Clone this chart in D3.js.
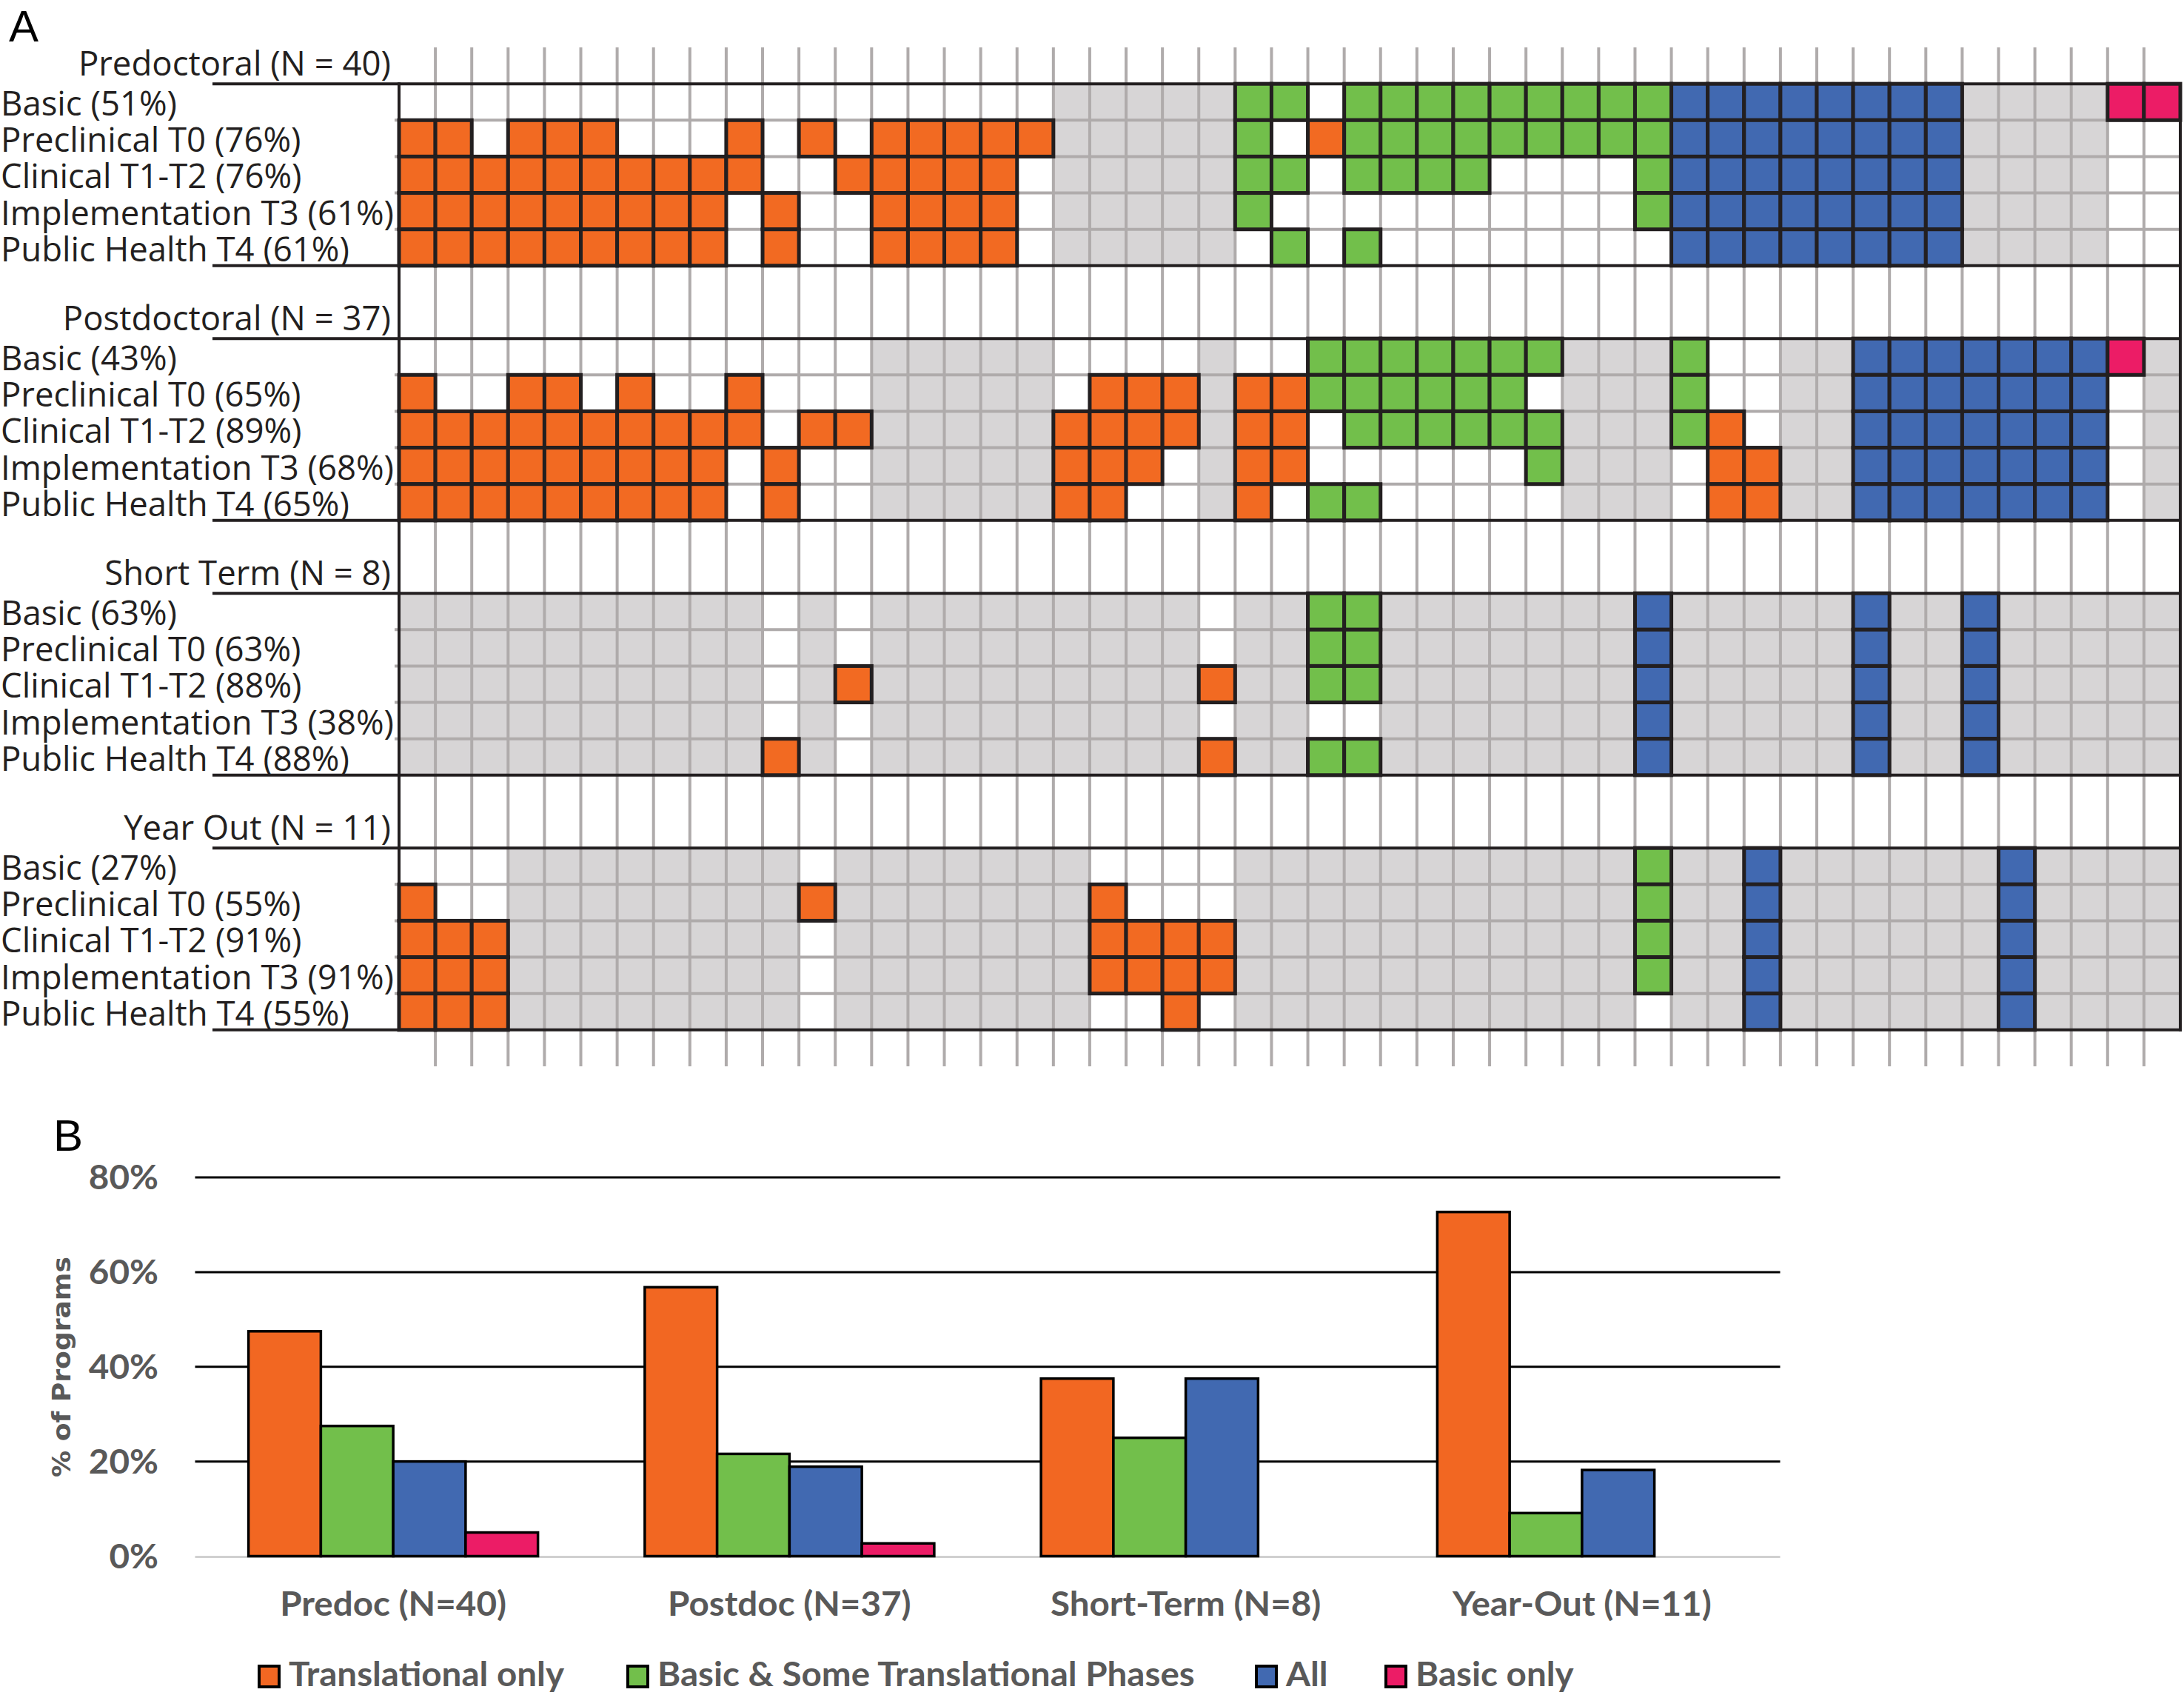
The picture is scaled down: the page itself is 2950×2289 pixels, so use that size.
<!DOCTYPE html>
<html><head><meta charset="utf-8">
<script src="https://cdn.jsdelivr.net/npm/d3@7"></script>
<style>html,body{margin:0;padding:0;background:#fff;} svg{display:block;}</style>
</head><body>
<svg id="chart" width="2950" height="2289"></svg>
<script>
// ================= DATA =================
const phaseNames = ["Basic", "Preclinical T0", "Clinical T1-T2", "Implementation T3", "Public Health T4"];
const sectionNames = ["Predoctoral (N = 40)", "Postdoctoral (N = 37)", "Short Term (N = 8)", "Year Out (N = 11)"];
const predocPercents  = [51, 76, 76, 61, 61];
const postdocPercents = [43, 65, 89, 68, 65];
const shortPercents   = [63, 63, 88, 38, 88];
const yearOutPercents = [27, 55, 91, 91, 55];

// program type of each of the 49 columns: O = translational only, G = basic & some translational,
// B = all phases, P = basic only, "." = no program (grey)
const predocTypes = "OOOOOOOOOOOOOOOOOO" + "....." + "GG" + "O" + "GGGGGGGGG" + "BBBBBBBB" + "...." + "PP";
// phase coverage per column (1 = covered), rows = phaseNames
const predocPhases = [
  "000000000000000000" + "00000" + "11" + "0" + "111111111" + "11111111" + "0000" + "11",
  "110111000101011111" + "00000" + "10" + "1" + "111111111" + "11111111" + "0000" + "00",
  "111111111100111110" + "00000" + "11" + "0" + "111100001" + "11111111" + "0000" + "00",
  "111111111010011110" + "00000" + "10" + "0" + "000000001" + "11111111" + "0000" + "00",
  "111111111010011110" + "00000" + "01" + "0" + "100000000" + "11111111" + "0000" + "00"
];

const postdocTypes = "OOOOOOOOOOOOO" + "....." + "OOOO" + "." + "OO" + "GGGGGGG" + "..." + "G" + "OO" + ".." + "BBBBBBB" + "P" + ".";
const postdocPhases = [
  "0000000000000" + "00000" + "0000" + "0" + "00" + "1111111" + "000" + "1" + "00" + "00" + "1111111" + "1" + "0",
  "1001101001000" + "00000" + "0111" + "0" + "11" + "1111110" + "000" + "1" + "00" + "00" + "1111111" + "0" + "0",
  "1111111111011" + "00000" + "1111" + "0" + "11" + "0111111" + "000" + "1" + "10" + "00" + "1111111" + "0" + "0",
  "1111111110100" + "00000" + "1110" + "0" + "11" + "0000001" + "000" + "0" + "11" + "00" + "1111111" + "0" + "0",
  "1111111110100" + "00000" + "1100" + "0" + "10" + "1100000" + "000" + "0" + "11" + "00" + "1111111" + "0" + "0"
];

const shortTypes = ".........." + "O" + "." + "O" + "........." + "O" + ".." + "GG" + "......." + "B" + "....." + "B" + ".." + "B" + ".....";
const shortPhases = [
  "0000000000" + "0" + "0" + "0" + "000000000" + "0" + "00" + "11" + "0000000" + "1" + "00000" + "1" + "00" + "1" + "00000",
  "0000000000" + "0" + "0" + "0" + "000000000" + "0" + "00" + "11" + "0000000" + "1" + "00000" + "1" + "00" + "1" + "00000",
  "0000000000" + "0" + "0" + "1" + "000000000" + "1" + "00" + "11" + "0000000" + "1" + "00000" + "1" + "00" + "1" + "00000",
  "0000000000" + "0" + "0" + "0" + "000000000" + "0" + "00" + "00" + "0000000" + "1" + "00000" + "1" + "00" + "1" + "00000",
  "0000000000" + "1" + "0" + "0" + "000000000" + "1" + "00" + "11" + "0000000" + "1" + "00000" + "1" + "00" + "1" + "00000"
];

const yearOutTypes = "OOO" + "........" + "O" + "......." + "OOOO" + "..........." + "G" + ".." + "B" + "......" + "B" + "....";
const yearOutPhases = [
  "000" + "00000000" + "0" + "0000000" + "0000" + "00000000000" + "1" + "00" + "1" + "000000" + "1" + "0000",
  "100" + "00000000" + "1" + "0000000" + "1000" + "00000000000" + "1" + "00" + "1" + "000000" + "1" + "0000",
  "111" + "00000000" + "0" + "0000000" + "1111" + "00000000000" + "1" + "00" + "1" + "000000" + "1" + "0000",
  "111" + "00000000" + "0" + "0000000" + "1111" + "00000000000" + "1" + "00" + "1" + "000000" + "1" + "0000",
  "111" + "00000000" + "0" + "0000000" + "0010" + "00000000000" + "0" + "00" + "1" + "000000" + "1" + "0000"
];

// Panel B
const barGroups = ["Predoc (N=40)", "Postdoc (N=37)", "Short-Term (N=8)", "Year-Out (N=11)"];
const barSeries = ["Translational only", "Basic & Some Translational Phases", "All", "Basic only"];
const translationalOnly = [47.5, 56.8, 37.5, 72.7];
const basicAndSome      = [27.5, 21.6, 25.0, 9.1];
const allPhases         = [20.0, 18.9, 37.5, 18.2];
const basicOnly         = [5.0, 2.7, 0, 0];
const yTicks = [0, 20, 40, 60, 80];
const yAxisTitle = "% of Programs";

// ================= DRAW =================
const W = 2950, H = 2289;
const svg = d3.select("#chart");
svg.append("rect").attr("width", W).attr("height", H).attr("fill", "#fff");

const typeColor = {O: "#f26a22", G: "#72bf4b", B: "#4169b1", P: "#ec1c66"};
const grayFill = "#d7d5d6", gridGray = "#afabab", ink = "#231f20";

const sections = [
  {title: sectionNames[0], types: predocTypes, phases: predocPhases, pct: predocPercents},
  {title: sectionNames[1], types: postdocTypes, phases: postdocPhases, pct: postdocPercents},
  {title: sectionNames[2], types: shortTypes, phases: shortPhases, pct: shortPercents},
  {title: sectionNames[3], types: yearOutTypes, phases: yearOutPhases, pct: yearOutPercents}
];
const nCols = 49;
const x = d3.scaleBand().domain(d3.range(nCols)).range([539, 2945]);
const y = d3.scaleBand().domain(d3.range(28)).range([64, 1440]);
const row0 = s => 1 + 7 * s;

const cells = [];
sections.forEach((sec, s) => {
  for (let r = 0; r < 5; r++) for (let c = 0; c < nCols; c++) {
    const t = sec.types[c];
    const on = sec.phases[r][c] === "1";
    cells.push({s, r, c, kind: t === "." ? "none" : (on ? t : "empty")});
  }
});

const gA = svg.append("g");
// grey (no-program) cells
gA.append("g").selectAll("rect").data(cells.filter(d => d.kind === "none")).join("rect")
  .attr("x", d => x(d.c)).attr("y", d => y(row0(d.s) + d.r))
  .attr("width", x.bandwidth()).attr("height", y.bandwidth()).attr("fill", grayFill);

// grey vertical grid lines
gA.append("g").selectAll("line").data(d3.range(1, nCols)).join("line")
  .attr("x1", c => x(c)).attr("x2", c => x(c))
  .attr("y1", y(0)).attr("y2", y(27) + y.bandwidth())
  .attr("stroke", gridGray).attr("stroke-width", 4);

// grey horizontal row lines
const rowLines = [];
sections.forEach((sec, s) => { for (let r = 1; r < 5; r++) rowLines.push(row0(s) + r); });
gA.append("g").selectAll("line").data(rowLines).join("line")
  .attr("x1", 533).attr("x2", x.range()[1])
  .attr("y1", d => y(d)).attr("y2", d => y(d))
  .attr("stroke", gridGray).attr("stroke-width", 4);

// coloured cells
gA.append("g").selectAll("rect").data(cells.filter(d => typeColor[d.kind])).join("rect")
  .attr("x", d => x(d.c)).attr("y", d => y(row0(d.s) + d.r))
  .attr("width", x.bandwidth()).attr("height", y.bandwidth())
  .attr("fill", d => typeColor[d.kind]).attr("stroke", ink).attr("stroke-width", 5);

// black frame lines
const borders = [];
sections.forEach((sec, s) => { borders.push(y(row0(s))); borders.push(y(row0(s) + 4) + y.bandwidth()); });
gA.append("g").selectAll("line").data(borders).join("line")
  .attr("x1", 287).attr("x2", x.range()[1] + 2)
  .attr("y1", d => d).attr("y2", d => d)
  .attr("stroke", ink).attr("stroke-width", 4);
const top0 = y(row0(0)), bot3 = y(row0(3) + 4) + y.bandwidth();
gA.append("g").selectAll("line").data([x.range()[0], x.range()[1]]).join("line")
  .attr("x1", d => d).attr("x2", d => d).attr("y1", top0 - 2).attr("y2", bot3 + 2)
  .attr("stroke", ink).attr("stroke-width", 4);

// labels of panel A
const aFont = "'Open Sans', sans-serif";
const aSize = 45;
const measure = (txt, font, size, weight) => {
  const t = svg.append("text").attr("font-family", font).attr("font-size", size)
    .attr("font-weight", weight).text(txt);
  const w = t.node().getComputedTextLength(); t.remove(); return w;
};
const kA = 531 / measure("Implementation T3 (61%)", aFont, aSize, 400);
const aLabels = [];
sections.forEach((sec, s) => {
  aLabels.push({txt: sec.title, x: 528, y: y(row0(s) - 1) + 38, anchor: "end"});
  phaseNames.forEach((p, r) => aLabels.push({txt: `${p} (${sec.pct[r]}%)`, x: 1, y: y(row0(s) + r) + 43, anchor: "start"}));
});
gA.append("g").selectAll("text").data(aLabels).join("text")
  .attr("transform", d => `translate(${d.x},${d.y}) scale(${kA},1)`)
  .attr("text-anchor", d => d.anchor)
  .attr("font-family", aFont).attr("font-size", aSize).attr("fill", ink)
  .text(d => d.txt);

// panel letters
svg.append("text").attr("x", 12).attr("y", 56).attr("font-family", "'Liberation Sans', Arial, sans-serif")
  .attr("font-size", 60).attr("fill", "#000").text("A");
svg.append("text").attr("x", 72).attr("y", 1554).attr("font-family", "'Liberation Sans', Arial, sans-serif")
  .attr("font-size", 60).attr("fill", "#000").text("B");

// ================= PANEL B =================
const bFont = "Lato, 'Open Sans', sans-serif";
const bSize = 46, bGray = "#595959";
const kB = 726 / measure("Basic & Some Translational Phases", bFont, bSize, 700);
const gB = svg.append("g");
const yB = d3.scaleLinear().domain([0, 80]).range([2101.5, 1590]);
const xB = d3.scaleBand().domain(barGroups).range([263.5, 2404.5]);
const groupInner = 391;
const xS = d3.scaleBand().domain(barSeries).range([(xB.bandwidth() - groupInner) / 2, (xB.bandwidth() + groupInner) / 2]);
const seriesValues = [translationalOnly, basicAndSome, allPhases, basicOnly];
const seriesColor = ["#f26722", "#72bf4b", "#4169b1", "#ec1c66"];

// gridlines
gB.append("g").selectAll("line").data(yTicks.filter(v => v > 0)).join("line")
  .attr("x1", xB.range()[0]).attr("x2", xB.range()[1])
  .attr("y1", d => yB(d)).attr("y2", d => yB(d))
  .attr("stroke", "#000").attr("stroke-width", 3);
gB.append("line").attr("x1", xB.range()[0]).attr("x2", xB.range()[1])
  .attr("y1", yB(0) + 1).attr("y2", yB(0) + 1).attr("stroke", "#d0d0d0").attr("stroke-width", 3);

// tick labels
gB.append("g").selectAll("text").data(yTicks).join("text")
  .attr("transform", d => `translate(214,${yB(d) + 16}) scale(${kB},1)`)
  .attr("text-anchor", "end").attr("font-family", bFont).attr("font-weight", 700)
  .attr("font-size", bSize).attr("fill", bGray).text(d => d + "%");

// bars
const bars = [];
barGroups.forEach((g, gi) => barSeries.forEach((s, si) => {
  const v = seriesValues[si][gi];
  if (v > 0) bars.push({g, s, si, v});
}));
gB.append("g").selectAll("rect").data(bars).join("rect")
  .attr("x", d => xB(d.g) + xS(d.s)).attr("width", xS.bandwidth())
  .attr("y", d => yB(d.v)).attr("height", d => yB(0) - yB(d.v))
  .attr("fill", d => seriesColor[d.si]).attr("stroke", "#000").attr("stroke-width", 3.5);

// category labels
gB.append("g").selectAll("text").data(barGroups).join("text")
  .attr("transform", d => `translate(${xB(d) + xB.bandwidth() / 2},2182) scale(${kB},1)`)
  .attr("text-anchor", "middle").attr("font-family", bFont).attr("font-weight", 700)
  .attr("font-size", bSize).attr("fill", bGray).text(d => d);

// y axis title
const tFont = "'DejaVu Sans', Verdana, sans-serif";
const kT = 298 / measure(yAxisTitle, tFont, 34, 700);
gB.append("text").attr("transform", `translate(95,1846) rotate(-90) scale(${kT},1)`)
  .attr("text-anchor", "middle").attr("font-family", tFont).attr("font-weight", 700)
  .attr("font-size", 34).attr("fill", bGray).text(yAxisTitle);

// legend
const legendX = [348, 846, 1695, 1870];
const leg = gB.append("g").selectAll("g").data(barSeries).join("g")
  .attr("transform", (d, i) => `translate(${legendX[i]},2249)`);
leg.append("rect").attr("x", 2).attr("y", 1).attr("width", 27).attr("height", 28)
  .attr("fill", (d, i) => seriesColor[i]).attr("stroke", "#000").attr("stroke-width", 4);
leg.append("text").attr("transform", `translate(42,28) scale(${kB},1)`)
  .attr("font-family", bFont).attr("font-weight", 700).attr("font-size", bSize)
  .attr("fill", bGray).text(d => d);
</script>
</body></html>
